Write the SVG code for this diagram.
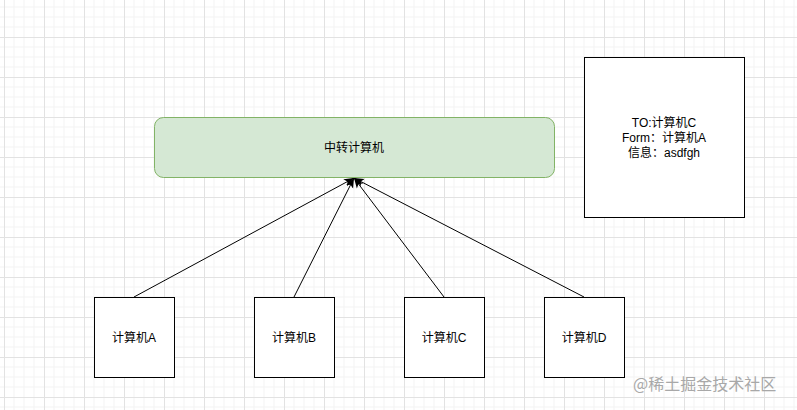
<svg xmlns="http://www.w3.org/2000/svg" width="797" height="410" viewBox="0 0 797 410">
  <defs>
    <pattern id="grid" x="4" y="37" width="40" height="40" patternUnits="userSpaceOnUse">
      <path d="M10,0 V40 M20,0 V40 M30,0 V40 M0,10 H40 M0,20 H40 M0,30 H40" stroke="#f3f3f3" stroke-width="1" fill="none"/>
      <path d="M0.5,0 V40 M0,0.5 H40" stroke="#e2e2e2" stroke-width="1" fill="none"/>
    </pattern>
    <marker id="arrow" markerUnits="userSpaceOnUse" markerWidth="10" markerHeight="10" viewBox="0 0 10 10" refX="10" refY="5" orient="auto">
      <path d="M0,1 L10,5 L0,9 L2.5,5 z" fill="#000"/>
    </marker>
    <style>
      .box { fill: #ffffff; stroke: #000000; stroke-width: 1; }
      .relay { fill: #d5e8d4; stroke: #82b366; stroke-width: 1; }
      .lbl { font-family: "Liberation Sans", "Noto Sans CJK SC", sans-serif; font-size: 12px; fill: #000; text-anchor: middle; }
      .edge { stroke: #000; stroke-width: 1; fill: none; marker-end: url(#arrow); }
      .wm { font-family: "Noto Sans CJK SC", "Liberation Sans", sans-serif; font-size: 16px; fill: #a8a8a8; }
    </style>
  </defs>
  <rect x="0" y="0" width="797" height="410" fill="#ffffff"/>
  <rect x="0" y="0" width="797" height="410" fill="url(#grid)"/>

  <g id="connectors">
    <line class="edge" x1="134" y1="297" x2="354" y2="178"/>
    <line class="edge" x1="294" y1="297" x2="354" y2="178"/>
    <line class="edge" x1="444" y1="297" x2="354" y2="178"/>
    <line class="edge" x1="584" y1="297" x2="354" y2="178"/>
  </g>

  <g id="relay">
    <rect class="relay" x="154.5" y="117.5" width="400" height="60" rx="9" ry="9"/>
    <text class="lbl" x="354" y="151.5">中转计算机</text>
  </g>

  <g id="message">
    <rect class="box" x="584.5" y="57.5" width="160" height="160"/>
    <text class="lbl" x="664" y="126.5">TO:计算机C</text>
    <text class="lbl" x="664" y="141.5">Form：计算机A</text>
    <text class="lbl" x="664" y="156.5">信息：asdfgh</text>
  </g>

  <g id="computerA">
    <rect class="box" x="94.5" y="297.5" width="80" height="80"/>
    <text class="lbl" x="134" y="341.5">计算机A</text>
  </g>
  <g id="computerB">
    <rect class="box" x="254.5" y="297.5" width="80" height="80"/>
    <text class="lbl" x="294" y="341.5">计算机B</text>
  </g>
  <g id="computerC">
    <rect class="box" x="404.5" y="297.5" width="80" height="80"/>
    <text class="lbl" x="444" y="341.5">计算机C</text>
  </g>
  <g id="computerD">
    <rect class="box" x="544.5" y="297.5" width="80" height="80"/>
    <text class="lbl" x="584" y="341.5">计算机D</text>
  </g>

  <text class="wm" x="633" y="390">@稀土掘金技术社区</text>
</svg>
